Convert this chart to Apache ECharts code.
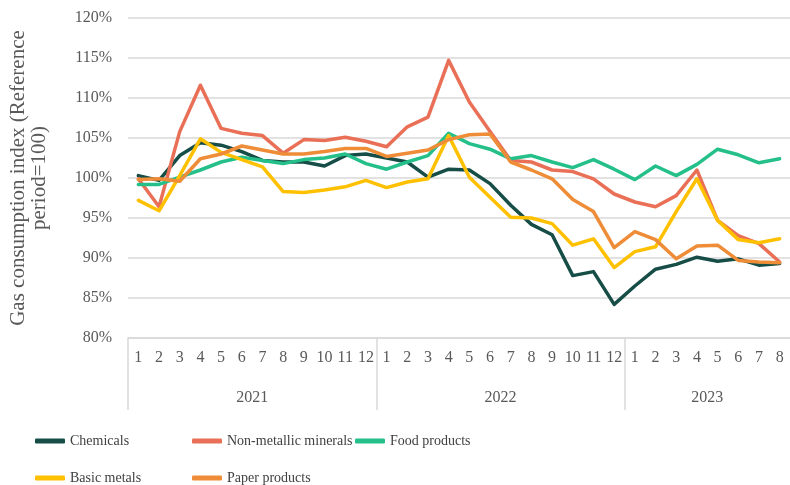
<!DOCTYPE html>
<html>
<head>
<meta charset="utf-8">
<script src="https://cdn.jsdelivr.net/npm/echarts@6/dist/echarts.min.js"></script>
<style>
  html, body { margin: 0; padding: 0; background: #fff; }
  #chart { width: 790px; height: 485px; }
</style>
</head>
<body>
<div id="chart"></div>
<script>
// months (2021: 1-12, 2022: 1-12, 2023: 1-8)
var months = ['1','2','3','4','5','6','7','8','9','10','11','12',
              '1','2','3','4','5','6','7','8','9','10','11','12',
              '1','2','3','4','5','6','7','8']
var years = ['2021', '2022', '2023']
var yearStarts = [0, 12, 24]
var yearCenters = [6, 18, 28]

var chemicals = [100.3, 99.7, 102.8, 104.4, 104.1, 103.3, 102.2, 102.0, 102.0, 101.5, 102.8, 103.0,
                 102.5, 102.0, 100.1, 101.1, 101.0, 99.3, 96.6, 94.2, 92.9, 87.8, 88.3, 84.2,
                 86.5, 88.6, 89.2, 90.1, 89.6, 89.9, 89.1, 89.3]
var nonMetallic = [99.9, 96.4, 105.8, 111.6, 106.2, 105.6, 105.3, 103.1, 104.8, 104.7, 105.1, 104.6,
                   103.9, 106.4, 107.6, 114.7, 109.5, 105.8, 102.2, 102.0, 101.0, 100.8, 99.9, 98.0,
                   97.0, 96.4, 97.8, 101.0, 94.7, 92.8, 91.8, 89.5]
var food = [99.2, 99.2, 100.1, 101.0, 102.0, 102.6, 102.2, 101.8, 102.3, 102.5, 103.0, 101.8,
            101.1, 102.0, 102.8, 105.6, 104.3, 103.6, 102.4, 102.8, 102.0, 101.3, 102.3, 101.1,
            99.8, 101.5, 100.3, 101.7, 103.6, 102.9, 101.9, 102.4]
var basicMetals = [97.2, 95.9, 100.3, 104.9, 103.2, 102.3, 101.4, 98.3, 98.2, 98.5, 98.9, 99.7,
                   98.8, 99.5, 99.9, 105.3, 100.1, 97.6, 95.1, 95.0, 94.3, 91.6, 92.4, 88.8,
                   90.8, 91.4, 95.8, 99.9, 94.7, 92.3, 91.9, 92.4]
var paper = [99.8, 99.9, 99.6, 102.4, 103.0, 104.0, 103.5, 103.0, 103.0, 103.3, 103.7, 103.7,
             102.7, 103.1, 103.5, 104.8, 105.4, 105.5, 102.0, 101.0, 99.9, 97.3, 95.8, 91.3,
             93.3, 92.3, 89.9, 91.5, 91.6, 89.7, 89.5, 89.4]

var yTicks = { min: 80, max: 120, interval: 5 }

var chart = echarts.init(document.getElementById('chart'))
var font = '"Liberation Serif", "Times New Roman", serif'

function line(name, data, color) {
  return {
    name: name,
    type: 'line',
    data: data,
    showSymbol: false,
    symbol: 'none',
    lineStyle: { width: 3.5, color: color, cap: 'round', join: 'round' },
    itemStyle: { color: color }
  }
}

// one legend per entry so they sit in fixed columns like the original
function legendItem(name, left, top) {
  return {
    left: left, top: top, itemWidth: 30, itemHeight: 5, icon: 'roundRect',
    selectedMode: false,
    textStyle: { fontFamily: font, fontSize: 14, color: '#404040' },
    data: [name]
  }
}

var option = {
  animation: false,
  grid: { left: 128, top: 18, bottom: 147, right: -8 },
  legend: [
    legendItem('Chemicals', 30, 429),
    legendItem('Non-metallic minerals', 187, 429),
    legendItem('Food products', 350, 429),
    legendItem('Basic metals', 30, 466),
    legendItem('Paper products', 187, 466)
  ],
  xAxis: [
    {
      type: 'category',
      data: months,
      boundaryGap: true,
      axisLine: { lineStyle: { color: '#d9d9d9', width: 1.5 } },
      axisTick: { show: false },
      axisLabel: { interval: 0, margin: 12, fontFamily: font, fontSize: 16, color: '#595959' }
    },
    {
      type: 'value',
      min: 0,
      max: 32,
      position: 'bottom',
      axisLine: { show: false },
      splitLine: { show: false },
      axisTick: { show: true, customValues: yearStarts, length: 72, lineStyle: { color: '#d9d9d9', width: 1.5 } },
      axisLabel: {
        customValues: yearCenters, margin: 52, fontFamily: font, fontSize: 16, color: '#595959',
        formatter: function (v) { return years[yearCenters.indexOf(v)] }
      }
    }
  ],
  yAxis: {
    type: 'value',
    min: yTicks.min,
    max: yTicks.max,
    interval: yTicks.interval,
    name: 'Gas consumption index (Reference\nperiod=100)',
    nameLocation: 'middle',
    nameRotate: 90,
    nameGap: 78,
    nameTextStyle: { fontFamily: font, fontSize: 21, color: '#595959', lineHeight: 21 },
    axisLine: { show: false },
    axisTick: { show: false },
    axisLabel: { formatter: '{value}%', margin: 16, fontFamily: font, fontSize: 16, color: '#595959' },
    splitLine: { lineStyle: { color: '#d9d9d9', width: 1.5 } }
  },
  series: [
    line('Chemicals', chemicals, '#164d47'),
    line('Non-metallic minerals', nonMetallic, '#e96f56'),
    line('Food products', food, '#25c08a'),
    line('Basic metals', basicMetals, '#ffc000'),
    line('Paper products', paper, '#ee8c37')
  ]
}

chart.setOption(option)
</script>
</body>
</html>
